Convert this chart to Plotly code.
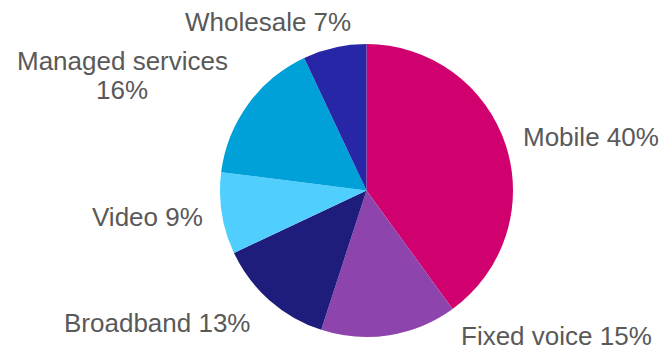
import plotly.graph_objects as go

# Revenue split by business line (percent)
segments = ["Mobile", "Fixed voice", "Broadband", "Video", "Managed services", "Wholesale"]
shares = [40, 15, 13, 9, 16, 7]
slice_colors = ["#D0006F", "#8E44AD", "#1E1D7B", "#50CFFF", "#00A0D8", "#2626A6"]

# Label placement in pixels (centre x, centre y) and line breaks
W, H = 667, 350
label_layout = {
    "Mobile": [(591, 137)],
    "Fixed voice": [(556, 336)],
    "Broadband": [(157, 323)],
    "Video": [(147, 217)],
    "Managed services": [(122, 61), (122, 90)],
    "Wholesale": [(268, 22)],
}

# Pie geometry in pixels
cx, cy, r = 366.5, 190.5, 146.5

fig = go.Figure(
    go.Pie(
        labels=segments,
        values=shares,
        sort=False,
        direction="clockwise",
        rotation=0,
        marker=dict(colors=slice_colors, line=dict(width=0)),
        textinfo="none",
        hoverinfo="label+percent",
        domain=dict(
            x=[(cx - r) / W, (cx + r) / W],
            y=[1 - (cy + r) / H, 1 - (cy - r) / H],
        ),
        showlegend=False,
    )
)

annotations = []
for name, value in zip(segments, shares):
    spots = label_layout[name]
    if len(spots) == 1:
        lines = [f"{name} {value}%"]
    else:
        lines = [name, f"{value}%"]
    for text, (x, y) in zip(lines, spots):
        annotations.append(
            dict(
                text=text,
                x=x / W,
                y=1 - y / H,
                xref="paper",
                yref="paper",
                xanchor="center",
                yanchor="middle",
                showarrow=False,
                font=dict(family="Liberation Sans, Arial, sans-serif", size=26, color="#595959"),
            )
        )

fig.update_layout(
    width=W,
    height=H,
    margin=dict(l=0, r=0, t=0, b=0),
    paper_bgcolor="white",
    plot_bgcolor="white",
    annotations=annotations,
)

fig.write_html("out.html")
